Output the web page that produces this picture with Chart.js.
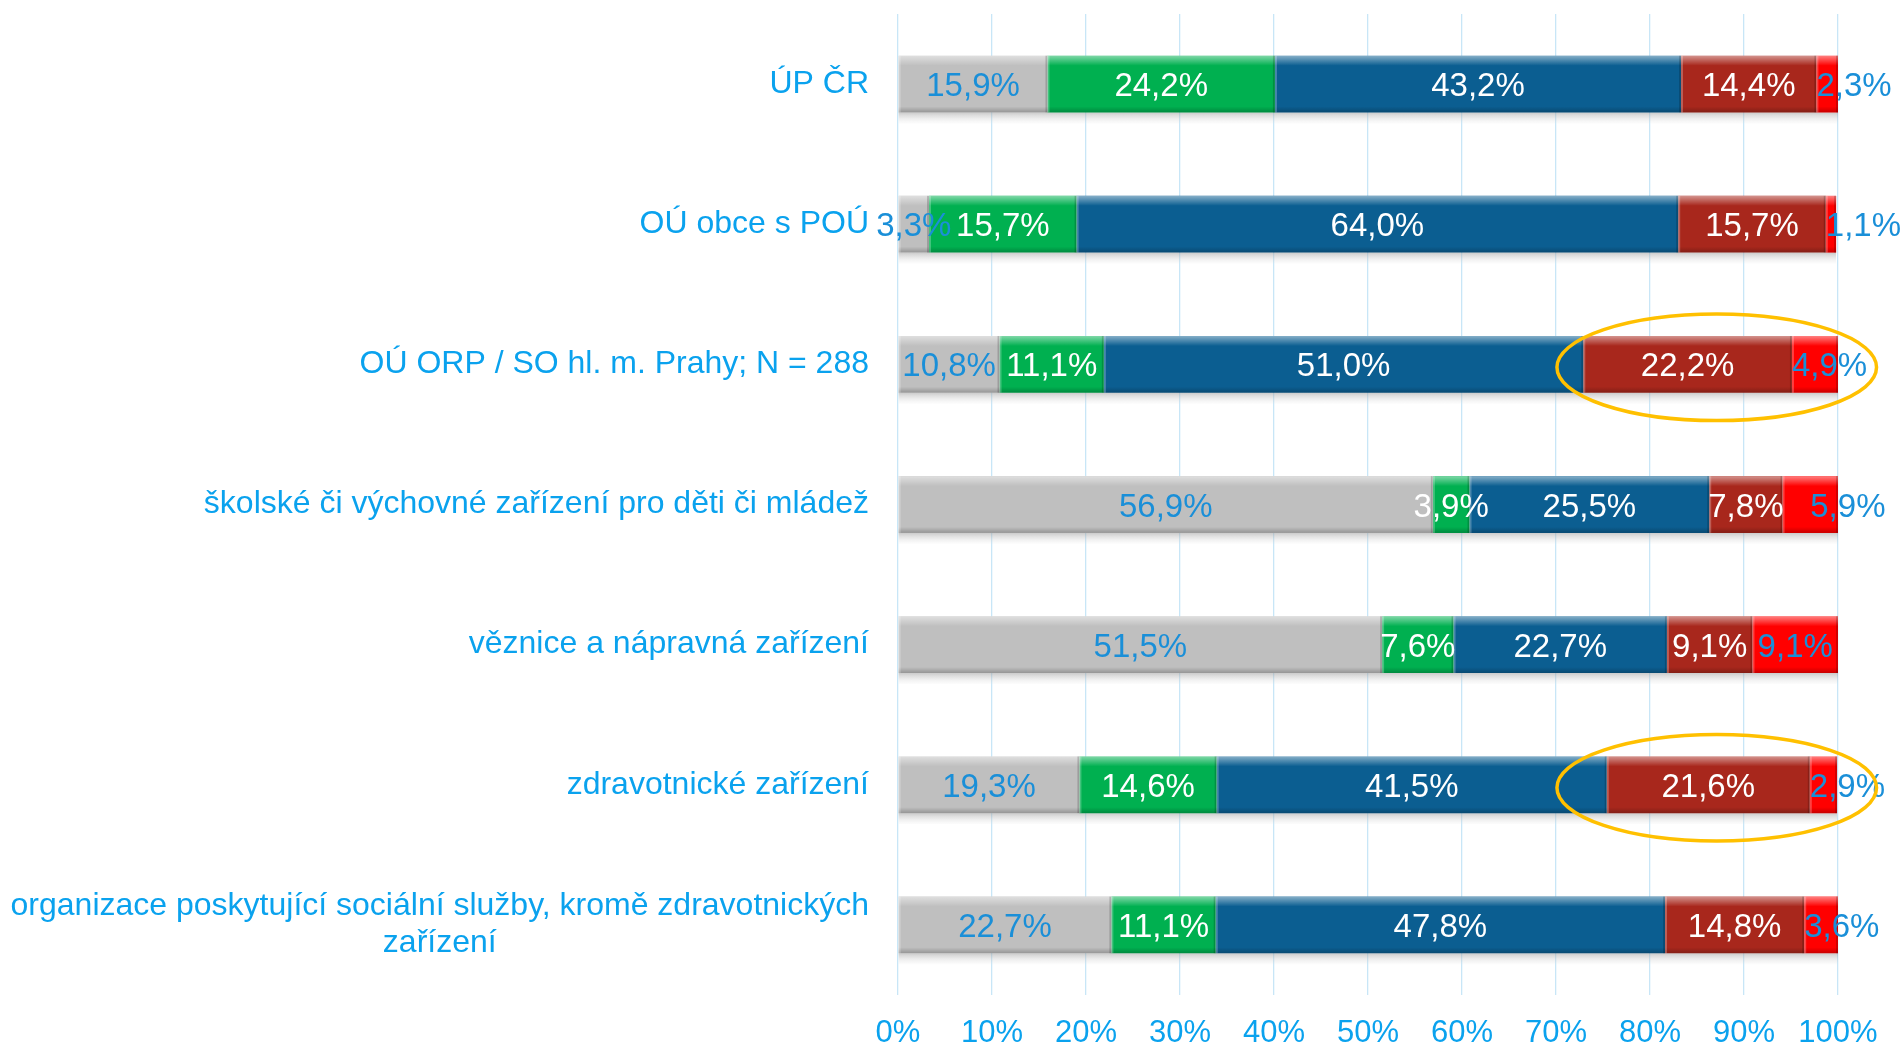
<!DOCTYPE html>
<html lang="cs">
<head>
<meta charset="utf-8">
<title>Stacked bars</title>
<script src="https://cdn.jsdelivr.net/npm/chart.js@4.4.0/dist/chart.umd.min.js"></script>
<style>
  html, body { margin: 0; padding: 0; background: #fff; }
  #wrap { width: 1902px; height: 1048px; position: relative; }
</style>
</head>
<body>
<div id="wrap"><canvas id="chart"></canvas></div>
<script>
// data (percent)
const categories = [
  "ÚP ČR",
  "OÚ obce s POÚ",
  "OÚ ORP / SO hl. m. Prahy; N = 288",
  "školské či výchovné zařízení pro děti či mládež",
  "věznice a nápravná zařízení",
  "zdravotnické zařízení",
  ["organizace poskytující sociální služby, kromě zdravotnických", "zařízení"],
];
const greyValues    = [15.9, 3.3, 10.8, 56.9, 51.5, 19.3, 22.7];
const greenValues   = [24.2, 15.7, 11.1, 3.9, 7.6, 14.6, 11.1];
const blueValues    = [43.2, 64.0, 51.0, 25.5, 22.7, 41.5, 47.8];
const darkRedValues = [14.4, 15.7, 22.2, 7.8, 9.1, 21.6, 14.8];
const redValues     = [2.3, 1.1, 4.9, 5.9, 9.1, 2.9, 3.6];
const xTickValues   = [0, 10, 20, 30, 40, 50, 60, 70, 80, 90, 100];
const highlightRows = [2, 5]; // rows circled in yellow

const FONT = '"Liberation Sans", Arial, sans-serif';
const LABEL_BLUE = "#1a8fd8";
const AXIS_BLUE = "#0aa2ee";

const fmt = (v) => v.toFixed(1).replace(".", ",") + "%";

// shadow under the bars, bevel on each segment, value labels
const bevelPlugin = {
  id: "bevel",
  beforeDatasetsDraw(chart) {
    const ctx = chart.ctx;
    const first = chart.getDatasetMeta(0).data;
    const last = chart.getDatasetMeta(chart.data.datasets.length - 1).data;
    ctx.save();
    first.forEach((bar, i) => {
      const p = bar.getProps(["y", "base", "height"], true);
      const endX = last[i].getProps(["x"], true).x;
      const top = p.y + p.height / 2;
      const g = ctx.createLinearGradient(0, top, 0, top + 11);
      g.addColorStop(0, "rgba(160,160,160,0.55)");
      g.addColorStop(1, "rgba(225,225,225,0.1)");
      ctx.fillStyle = g;
      ctx.fillRect(p.base, top, endX - p.base, 11);
    });
    ctx.restore();
  },
  afterDatasetsDraw(chart) {
    const ctx = chart.ctx;
    ctx.save();
    chart.data.datasets.forEach((ds, di) => {
      chart.getDatasetMeta(di).data.forEach((bar) => {
        const p = bar.getProps(["x", "y", "base", "height"], true);
        const l = Math.min(p.x, p.base), w = Math.abs(p.x - p.base);
        const t = p.y - p.height / 2, b = p.y + p.height / 2;
        if (w < 0.5) return;
        let g = ctx.createLinearGradient(0, t, 0, t + 10);
        g.addColorStop(0, "rgba(255,255,255,0.5)");
        g.addColorStop(1, "rgba(255,255,255,0)");
        ctx.fillStyle = g;
        ctx.fillRect(l, t, w, 10);
        g = ctx.createLinearGradient(0, b - 6, 0, b);
        g.addColorStop(0, "rgba(0,0,0,0)");
        g.addColorStop(1, "rgba(0,0,0,0.22)");
        ctx.fillStyle = g;
        ctx.fillRect(l, b - 6, w, 6);
        ctx.fillStyle = "rgba(255,255,255,0.25)";
        ctx.fillRect(l, t, Math.min(2, w), p.height);
        ctx.fillStyle = "rgba(0,0,0,0.18)";
        ctx.fillRect(l + w - Math.min(2, w), t, Math.min(2, w), p.height);
      });
    });
    // value labels
    ctx.font = "33px " + FONT;
    ctx.textBaseline = "middle";
    chart.data.datasets.forEach((ds, di) => {
      chart.getDatasetMeta(di).data.forEach((bar, i) => {
        const v = ds.data[i];
        const p = bar.getProps(["x", "y", "base"], true);
        const ly = p.y + 3;
        ctx.fillStyle = ds.labelColor;
        if (ds.labelStart && v < 5.5) {
          ctx.textAlign = "left";
          ctx.fillText(fmt(v), p.base, ly);
        } else if (ds.labelStart && v < 7) {
          // narrow but not tiny: pushed towards the right end
          ctx.textAlign = "left";
          ctx.fillText(fmt(v), (p.x + p.base) / 2, ly);
        } else {
          ctx.textAlign = "center";
          ctx.fillText(fmt(v), (p.x + p.base) / 2, ly);
        }
      });
    });
    ctx.restore();
  },
  afterDraw(chart) {
    const ctx = chart.ctx;
    const xs = chart.scales.x, ys = chart.scales.y;
    ctx.save();
    // category labels
    ctx.font = "32px " + FONT;
    ctx.fillStyle = AXIS_BLUE;
    ctx.textBaseline = "middle";
    const right = chart.chartArea.left - 29;
    categories.forEach((c, i) => {
      const y = ys.getPixelForValue(i);
      const lines = Array.isArray(c) ? c : [c];
      const maxW = Math.max(...lines.map((s) => ctx.measureText(s).width));
      const lh = 37;
      lines.forEach((s, k) => {
        const ly = y + (k - (lines.length - 1) / 2) * lh;
        if (lines.length > 1) {
          ctx.textAlign = "center";
          ctx.fillText(s, right - maxW / 2, ly);
        } else {
          ctx.textAlign = "right";
          ctx.fillText(s, right, ly);
        }
      });
    });
    // yellow ellipses
    ctx.strokeStyle = "#ffc000";
    ctx.lineWidth = 3.5;
    const rowH = ys.getPixelForValue(1) - ys.getPixelForValue(0);
    highlightRows.forEach((r) => {
      const cx = xs.getPixelForValue(87.1);
      const rx = xs.getPixelForValue(87.1 + 17) - cx;
      const cy = ys.getPixelForValue(r) + 3;
      ctx.beginPath();
      ctx.ellipse(cx, cy, rx, rowH * 0.38, 0, 0, Math.PI * 2);
      ctx.stroke();
    });
    ctx.restore();
  },
};

const mkSet = (label, data, color, labelColor, labelStart) => ({
  label, data, backgroundColor: color, borderWidth: 0,
  barPercentage: 0.405, categoryPercentage: 1,
  labelColor, labelStart: !!labelStart,
});

new Chart(document.getElementById("chart"), {
  type: "bar",
  data: {
    labels: categories,
    datasets: [
      mkSet("grey", greyValues, "#bfbfbf", LABEL_BLUE),
      mkSet("green", greenValues, "#00b050", "#ffffff"),
      mkSet("blue", blueValues, "#0b5e91", "#ffffff"),
      mkSet("dark red", darkRedValues, "#a8271c", "#ffffff"),
      mkSet("red", redValues, "#ff0000", LABEL_BLUE, true),
    ],
  },
  options: {
    indexAxis: "y",
    responsive: true,
    maintainAspectRatio: false,
    animation: false,
    layout: { padding: { left: 898, right: 64, top: 14, bottom: 0 } },
    plugins: { legend: { display: false }, tooltip: { enabled: false } },
    scales: {
      x: {
        stacked: true,
        min: 0,
        max: 100,
        afterBuildTicks: (s) => { s.ticks = xTickValues.map((v) => ({ value: v })); },
        afterFit: (s) => { s.height = 53; },
        ticks: {
          color: AXIS_BLUE,
          font: { size: 31, family: FONT },
          padding: 20,
          callback: (v) => v + "%",
        },
        grid: { color: "#c8e6f7", lineWidth: 1.3, drawTicks: false },
        border: { display: false },
      },
      y: { stacked: true, display: false },
    },
  },
  plugins: [bevelPlugin],
});
</script>
</body>
</html>
